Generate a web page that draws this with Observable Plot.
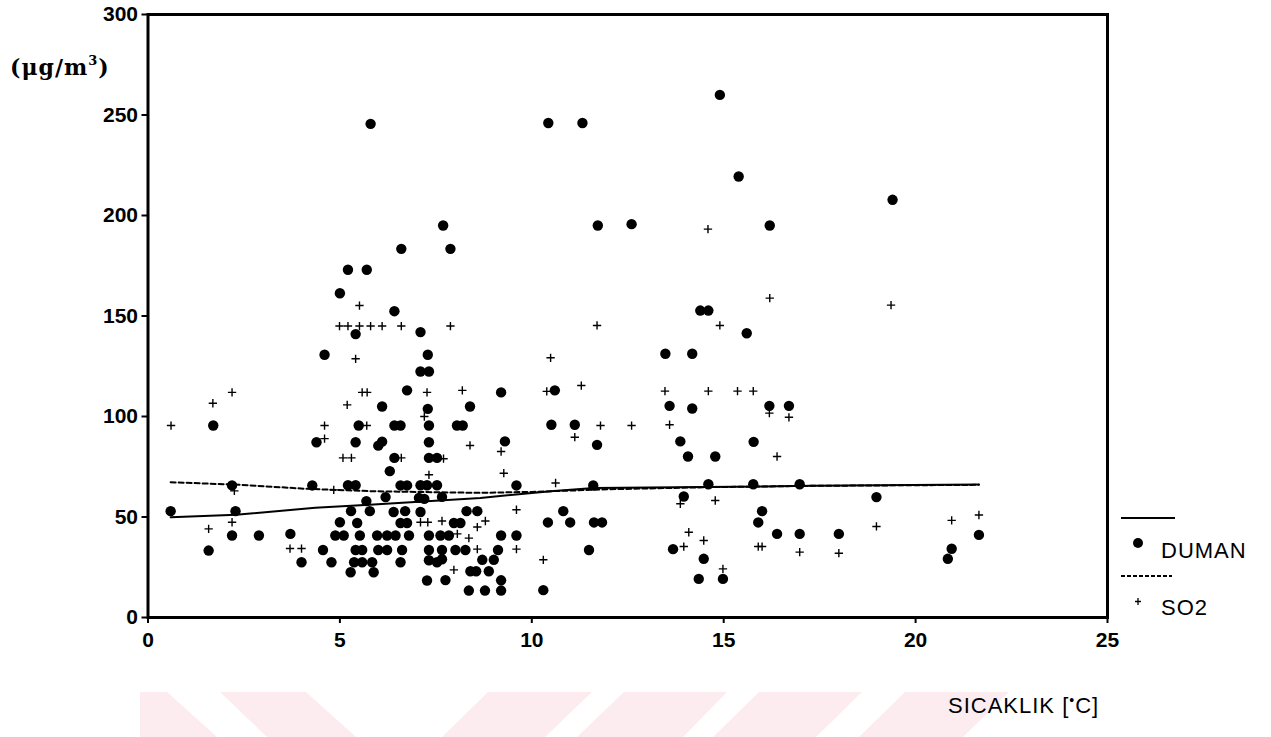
<!DOCTYPE html>
<html>
<head>
<meta charset="utf-8">
<script src="https://cdn.jsdelivr.net/npm/d3@7"></script>
<script src="https://cdn.jsdelivr.net/npm/@observablehq/plot@0.6"></script>
<style>
  body { margin: 0; background: #fff; }
  #wrap { position: relative; width: 1271px; height: 737px; overflow: hidden; background: #fff; }
  #wm, #chart, #over { position: absolute; left: 0; top: 0; }
  #over { pointer-events: none; }
</style>
</head>
<body>
<div id="wrap">
  <svg id="wm" width="1271" height="737">
    <g fill="#fdecef">
      <polygon points="140,692 167,692 217,737 140,737"/>
      <polygon points="220,692 306,692 356,737 267,737"/>
      <polygon points="488,692 592,692 545,737 442,737"/>
      <polygon points="624,692 727,692 683,737 577,737"/>
      <polygon points="759,692 862,692 816,737 713,737"/>
      <polygon points="905,692 1009,692 963,737 859,737"/>
    </g>
  </svg>
  <div id="chart"></div>
  <svg id="over" width="1271" height="737">
    <text x="10" y="75" font-family="'DejaVu Serif', serif" font-weight="bold" font-size="22" letter-spacing="1">(μg/m<tspan font-size="13" dy="-10">3</tspan><tspan dy="10">)</tspan></text>
    <line x1="1121" x2="1175" y1="518" y2="518" stroke="#000" stroke-width="2"/>
    <circle cx="1138" cy="543" r="5" fill="#000"/>
    <text x="1161" y="558" font-family="'Liberation Sans', Arial, sans-serif" font-size="22" letter-spacing="1">DUMAN</text>
    <line x1="1121" x2="1172" y1="576" y2="576" stroke="#000" stroke-width="2" stroke-dasharray="4,2"/>
    <path d="M1135,601.5h6M1138,598v7" stroke="#000" stroke-width="1.3"/>
    <text x="1161" y="615" font-family="'Liberation Sans', Arial, sans-serif" font-size="22" letter-spacing="1">SO2</text>
    <text x="948" y="713" font-family="'Liberation Sans', Arial, sans-serif" font-size="22" letter-spacing="1">SICAKLIK [<tspan font-size="14" dy="-8">•</tspan><tspan dy="8">C]</tspan></text>
  </svg>
</div>
<script>
// Temperature (°C) vs concentration (µg/m³)
const xTicks = [0, 5, 10, 15, 20, 25];
const yTicks = [0, 50, 100, 150, 200, 250, 300];

// DUMAN (smoke) observations: [temperature, concentration]
const duman = [
  [5.8,245.6],[10.43,246],[11.32,246],[14.9,260],[15.39,219.4],[7.69,195],[11.72,195],[12.6,195.7],[16.2,195],[19.4,207.8],
  [6.6,183.4],[7.88,183.4],[5.21,173],[5.7,173],[5.0,161.3],[6.42,152.4],[14.39,152.7],[14.6,152.7],[5.41,141],[7.1,142],
  [15.6,141.4],[4.6,130.7],[7.29,130.7],[13.48,131.2],[14.18,131.2],[7.1,122.4],[7.32,122.4],[6.75,113],[9.2,112],[10.6,113],
  [6.1,105],[7.29,103.8],[8.39,105],[13.59,105.3],[14.18,104],[16.19,105.3],[16.7,105.3],[1.7,95.5],[5.49,95.5],[6.42,95.5],
  [6.58,95.5],[7.32,95.5],[8.05,95.5],[8.2,95.5],[10.51,95.9],[11.12,95.9],[4.39,87.2],[5.41,87.2],[6.0,85.5],[6.1,87.5],
  [7.32,87.2],[9.3,87.6],[11.7,85.9],[13.87,87.6],[15.78,87.4],[6.42,79.4],[7.32,79.4],[7.53,79.4],[14.07,80.1],[14.78,80.1],
  [6.3,72.8],[2.19,65.7],[4.28,65.7],[5.21,65.8],[5.41,65.8],[6.58,65.7],[6.75,65.7],[7.1,65.8],[7.27,65.8],[7.53,65.8],
  [9.6,65.7],[11.6,65.7],[14.6,66.3],[15.77,66.3],[16.98,66.3],[5.69,57.9],[6.19,59.9],[7.06,59.5],[7.2,59],[7.66,60],
  [13.96,60.2],[18.98,59.9],[0.59,52.9],[2.28,52.9],[5.29,52.9],[5.78,52.9],[6.4,52.5],[6.7,52.9],[7.1,52.5],[8.3,52.9],
  [8.58,52.9],[10.82,52.9],[16.0,52.9],[5.0,47.4],[5.45,47],[6.58,47],[6.75,47],[7.97,47],[8.14,47],[10.42,47.3],
  [11.0,47.3],[11.62,47.3],[11.83,47.3],[15.9,47.3],[2.19,40.8],[2.89,40.8],[3.71,41.6],[4.88,40.8],[5.1,40.8],[5.52,40.8],
  [5.97,40.8],[6.23,40.8],[6.45,40.8],[6.8,40.8],[7.32,40.8],[7.62,40.8],[7.84,40.8],[9.2,40.8],[9.6,40.8],[16.39,41.6],
  [16.98,41.6],[18.0,41.6],[21.65,41.1],[1.58,33.3],[4.56,33.6],[5.41,33.6],[5.58,33.6],[6.0,33.6],[6.23,33.6],[6.62,33.6],
  [7.32,33.6],[7.66,33.6],[8.01,33.6],[8.27,33.6],[9.12,33.6],[11.49,33.6],[13.68,34],[20.94,34.2],[4.0,27.5],[4.78,27.5],
  [5.37,27.5],[5.58,27.5],[5.84,27.5],[6.58,27.5],[7.32,28.5],[7.53,27.5],[7.66,29],[8.71,28.7],[9.01,28.7],[14.48,29.2],
  [20.84,29.2],[5.28,22.5],[5.88,22.5],[8.4,23],[8.55,23],[8.88,23],[7.27,18.4],[7.75,18.6],[9.2,18.5],[14.35,19.2],
  [14.98,19.2],[8.36,13.4],[8.78,13.4],[9.2,13.4],[10.3,13.6]
];

// SO2 observations: [temperature, concentration]
const so2 = [
  [5.51,155.2],[19.36,155.4],[14.59,193.2],[16.2,158.9],[4.99,145],[5.21,145],[5.51,145],[5.8,145],[6.1,145],[6.6,145],
  [7.88,145],[11.7,145.3],[14.9,145.3],[5.41,128.7],[10.49,129.2],[5.58,112],[5.71,112],[7.27,112],[8.19,113],[2.19,112],
  [10.39,112.5],[13.47,112.6],[14.6,112.6],[15.36,112.6],[15.77,112.6],[11.29,115.4],[1.69,106.6],[5.19,105.8],[16.19,101.7],[16.7,99.6],
  [7.2,100],[0.6,95.5],[4.6,95.5],[5.7,95.5],[11.79,95.5],[12.6,95.5],[13.59,95.9],[4.6,89],[11.12,89.7],[8.39,85.6],
  [9.2,82.6],[5.08,79.4],[5.3,79.4],[7.7,79],[16.39,80.1],[6.6,79.4],[7.32,71],[9.27,71.8],[2.25,63],[4.84,63.5],
  [10.62,66.9],[13.87,56.6],[14.78,58.2],[2.19,47.4],[7.1,47.4],[7.29,47.4],[7.66,48],[8.79,48],[8.58,45],[9.6,53.6],
  [1.58,44.1],[8.06,41.6],[8.36,39.5],[3.7,34.3],[4.0,34.3],[8.58,34],[9.6,34],[7.97,23.7],[10.3,28.7],[13.96,35.3],
  [14.09,42.4],[14.48,38.3],[14.98,24.2],[15.9,35.3],[16.0,35.3],[16.98,32.5],[18.0,32],[18.98,45.3],[20.94,48.3],[21.65,51]
];

// Fitted curves
const dumanFit = [[0.59,49.9],[2.3,51.1],[4.36,54.6],[5.88,56.2],[8.66,59.5],[10.49,62.8],[11.62,64.4],[14.5,64.9],[17.3,65.5],[21.65,66.2]];
const so2Fit = [[0.59,67.3],[2.41,66],[4.15,64],[5.88,62.8],[8.66,62],[10.0,62.5],[12.0,63.8],[14.5,64.8],[17.3,65.5],[21.65,66]];

const chart = Plot.plot({
  width: 1271,
  height: 690,
  marginLeft: 147.5,
  marginRight: 164,
  marginTop: 14,
  marginBottom: 73,
  x: {domain: [0, 25]},
  y: {domain: [0, 300]},
  style: {
    fontFamily: "'Liberation Sans', Arial, sans-serif",
    fontSize: "21px",
    fontWeight: "bold",
    background: "transparent",
    color: "black"
  },
  marks: [
    Plot.axisX({ticks: xTicks, tickSize: 6, tickPadding: 9, fontSize: 21, strokeWidth: 2, label: null}),
    Plot.axisY({ticks: yTicks, tickSize: 6, tickPadding: 4, fontSize: 21, strokeWidth: 2, label: null}),
    Plot.line(dumanFit, {x: d => d[0], y: d => d[1], stroke: "black", strokeWidth: 2}),
    Plot.line(so2Fit, {x: d => d[0], y: d => d[1], stroke: "black", strokeWidth: 2, strokeDasharray: "5,3"}),
    Plot.dot(so2, {x: d => d[0], y: d => d[1], symbol: "plus", r: 2.8, stroke: "black", strokeWidth: 1.4}),
    Plot.dot(duman, {x: d => d[0], y: d => d[1], r: 5.2, fill: "black", stroke: "none"}),
    Plot.frame({stroke: "black", strokeWidth: 3})
  ]
});
document.getElementById("chart").appendChild(chart);
</script>
</body>
</html>
